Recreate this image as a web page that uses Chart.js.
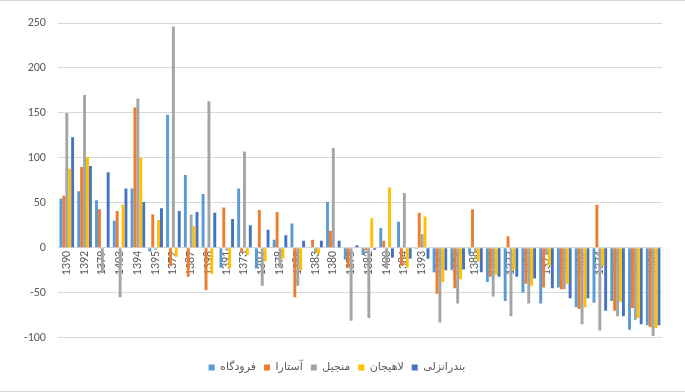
<!DOCTYPE html>
<html>
<head>
<meta charset="utf-8">
<script src="https://cdn.jsdelivr.net/npm/chart.js@4/dist/chart.umd.min.js"></script>
<style>
    html, body { margin: 0; padding: 0; background: #fff; }
    #wrap { position: relative; width: 685px; height: 392px; box-sizing: border-box; border-top: 1px solid #d9d9d9; border-bottom: 1px solid #d9d9d9; }
</style>
</head>
<body>
<div id="wrap"><canvas id="chart"></canvas></div>
<script>
// Years (categories), in the order shown on the x axis
const years = ['1390', '1392', '1379', '1403', '1394', '1395', '1372', '1387', '1398', '1391',
    '1373', '1397', '1378', '1385', '1383', '1380', '1375', '1382', '1400', '1384',
    '1393', '1389', '1376', '1388', '1399', '1377', '1401', '1371', '1381', '1402',
    '1374', '1386', '1396', '1404'];

const seriesNames = ['فرودگاه', 'آستارا', 'منجیل', 'لاهیجان', 'بندرانزلی'];

const forudgah = [55, 63, 53, 30, 66, -4, 148, 81, 60, -22,
    66, -23, 9, 27, 1, 51, -13, -8, 22, 29,
    -1, -27, -25, -7, -38, -59, -50, -62, -44, -66,
    -61, -59, -91, -86];
const astara = [58, 90, 43, 41, 156, 37, -20, -32, -47, 45,
    -5, 42, 40, -55, 9, 19, -22, -3, 8, -20,
    39, -51, -45, 43, -32, 13, -40, -44, -46, -68,
    48, -70, -67, -88];
const manjil = [150, 170, -28, -55, 166, -2, 246, 37, 163, -3,
    107, -42, -22, -42, -5, 111, -81, -78, -22, 61,
    15, -83, -62, -5, -54, -76, -62, -8, -46, -85,
    -92, -76, -80, -98];
const lahijan = [88, 101, 0, 48, 100, 31, -10, 24, -29, -23,
    -8, -15, -12, -25, -7, 0, 0, 33, 67, -22,
    35, -38, -35, -15, -30, -25, -42, -20, -40, -66,
    -20, -60, -78, -89];
const bandarAnzali = [123, 91, 84, 66, 51, 44, 41, 40, 39, 32,
    25, 20, 14, 8, 8, 8, 3, -2, -11, -12,
    -12, -25, -24, -27, -32, -32, -34, -45, -56, -56,
    -70, -76, -85, -86];

const yTicks = { min: -100, max: 250, step: 50 };

const colors = ['#5B9BD5', '#ED7D31', '#A5A5A5', '#FFC000', '#4472C4'];
const values = [forudgah, astara, manjil, lahijan, bandarAnzali];

const FONT = "Calibri, Carlito, 'Open Sans', 'DejaVu Sans', sans-serif";

const chartData = {
    labels: years,
    datasets: seriesNames.map((name, i) => ({
        label: name,
        data: values[i],
        backgroundColor: colors[i],
        borderWidth: 0,
        barPercentage: 1.0,
        categoryPercentage: 0.82
    }))
};

new Chart(document.getElementById('chart'), {
    type: 'bar',
    data: chartData,
    options: {
        responsive: true,
        maintainAspectRatio: false,
        animation: false,
        layout: {
            padding: { left: 12, right: 23, top: 22, bottom: 8 }
        },
        plugins: {
            legend: {
                position: 'bottom',
                // empty title only used as a spacer above the items
                title: {
                    display: true,
                    text: ' ',
                    font: { size: 1 },
                    padding: { top: 9, bottom: 6 }
                },
                labels: {
                    boxWidth: 6,
                    boxHeight: 6,
                    padding: 8,
                    color: '#595959',
                    font: { family: FONT, size: 11 }
                }
            },
            tooltip: { enabled: false }
        },
        scales: {
            x: {
                position: { y: 0 },
                z: 1,
                grid: { display: false },
                border: { display: false },
                ticks: {
                    color: '#595959',
                    font: { family: FONT, size: 12 },
                    minRotation: 90,
                    maxRotation: 90,
                    autoSkip: false,
                    padding: -5
                }
            },
            y: {
                min: yTicks.min,
                max: yTicks.max,
                grid: { color: '#D9D9D9', lineWidth: 1, drawTicks: false },
                border: { display: false },
                ticks: {
                    stepSize: yTicks.step,
                    padding: 12,
                    color: '#595959',
                    font: { family: FONT, size: 12 }
                }
            }
        }
    }
});
</script>
</body>
</html>
